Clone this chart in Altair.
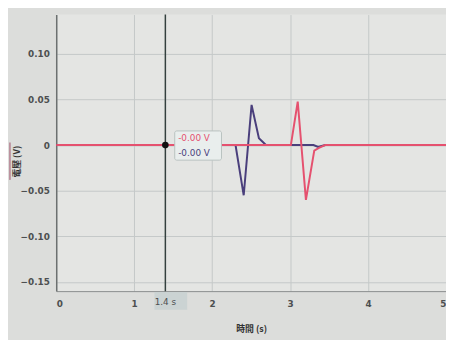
import altair as alt
import pandas as pd

# Series data (time in s, voltage in V)
purple_t = [0.0, 2.30, 2.405, 2.506, 2.60, 2.69, 3.30, 3.36, 3.45, 5.0]
purple_v = [0.0, 0.0, -0.055, 0.044, 0.0075, 0.0, 0.0, -0.002, 0.0, 0.0]
pink_t = [0.0, 3.01, 3.098, 3.203, 3.31, 3.37, 3.45, 5.0]
pink_v = [0.0, 0.0, 0.0476, -0.060, -0.006, -0.003, 0.0, 0.0]

x_ticks = [0, 1, 2, 3, 4, 5]
y_ticks = [0.10, 0.05, 0.0, -0.05, -0.10, -0.15]
cursor_t = 1.4
cursor_labels = ["-0.00 V", "-0.00 V"]
cursor_time_label = "1.4 s"

PINK = "#e5516f"
PURPLE = "#4a3f7c"

purple_df = pd.DataFrame({"t": purple_t, "v": purple_v})
pink_df = pd.DataFrame({"t": pink_t, "v": pink_v})

xs = alt.Scale(domain=[0, 5], nice=False, zero=False)
ys = alt.Scale(domain=[-0.16, 0.143], nice=False, zero=False)

x_axis = alt.Axis(values=x_ticks, title="時間 (s)", format="d", grid=True,
                  gridColor="#c4c8c8", domain=True, domainColor="#8a8e8e",
                  ticks=False, labelPadding=9, labelColor="#4d4f50",
                  labelFontSize=9, labelFontWeight="bold", titleFontSize=9,
                  titleFontWeight="bold", titleColor="#333", titlePadding=16,
                  labelFont="DejaVu Sans", titleFont="Noto Sans CJK TC")
y_axis = alt.Axis(values=y_ticks, title="電壓 (V)", grid=True,
                  gridColor="#c4c8c8", domain=True, domainColor="#6c7070",
                  domainWidth=1.5, ticks=False, labelPadding=7,
                  labelColor="#4d4f50", labelFontSize=9, labelFontWeight="bold",
                  labelExpr="datum.value == 0 ? '0' : format(datum.value, '.2f')",
                  titleFontSize=9, titleFontWeight="bold", titleColor="#333",
                  titleX=-40, titleY=149, titleBaseline="middle",
                  titleAlign="center", labelFont="DejaVu Sans",
                  titleFont="Noto Sans CJK TC")

purple_line = alt.Chart(purple_df).mark_line(strokeWidth=2, color=PURPLE).encode(
    x=alt.X("t:Q", scale=xs, axis=x_axis), y=alt.Y("v:Q", scale=ys, axis=y_axis))
pink_line = alt.Chart(pink_df).mark_line(strokeWidth=2, color=PINK).encode(
    x=alt.X("t:Q", scale=xs), y=alt.Y("v:Q", scale=ys))

cur = pd.DataFrame({"t": [cursor_t]})
rule = alt.Chart(cur).mark_rule(color="#34403f", strokeWidth=1.5).encode(
    x=alt.X("t:Q", scale=xs), y=alt.value(0), y2=alt.value(281))
dot = alt.Chart(cur).mark_point(filled=True, color="#111", size=45, opacity=1).encode(
    x=alt.X("t:Q", scale=xs), y=alt.datum(0, scale=ys))

# underline mark beside the y-axis title (series colour key)
key = alt.Chart(cur).mark_rule(color="#a0506a", strokeWidth=1).encode(
    x=alt.value(-47), y=alt.value(130), y2=alt.value(168))

box = alt.Chart(cur).mark_rect(fill="#e9eeed", stroke="#b9c2c0", strokeWidth=1,
                               cornerRadius=2).encode(
    x=alt.datum(1.52, scale=xs), x2=alt.datum(2.12),
    y=alt.datum(0.0155, scale=ys), y2=alt.datum(-0.0165))
lab_df = pd.DataFrame({"t": [cursor_t, cursor_t], "v": [0.0, 0.0],
                       "txt": cursor_labels})
lab1 = alt.Chart(lab_df.iloc[[0]]).mark_text(align="left", dx=13, dy=-7, fontSize=9,
                                              font="DejaVu Sans", color=PINK).encode(
    x=alt.X("t:Q", scale=xs), y=alt.Y("v:Q", scale=ys), text="txt:N")
lab2 = alt.Chart(lab_df.iloc[[1]]).mark_text(align="left", dx=13, dy=8, fontSize=9,
                                              font="DejaVu Sans", color=PURPLE).encode(
    x=alt.X("t:Q", scale=xs), y=alt.Y("v:Q", scale=ys), text="txt:N")

tbox = alt.Chart(cur).mark_rect(fill="#c9d2d2", opacity=0.9).encode(
    x=alt.datum(1.26, scale=xs), x2=alt.datum(1.68), y=alt.value(282), y2=alt.value(300))
tlab = alt.Chart(pd.DataFrame({"t": [cursor_t], "txt": [cursor_time_label]})).mark_text(
    fontSize=9, font="DejaVu Sans", color="#4d4f50", baseline="middle").encode(
    x=alt.X("t:Q", scale=xs), y=alt.value(292), text="txt:N")

chart = alt.layer(purple_line, pink_line, rule, dot, key, box, lab1, lab2, tbox, tlab).properties(
    width=396, height=281,
    padding={"left": 49, "top": 4, "right": 0, "bottom": 47},
    autosize="none",
    background="#dcdddb",
).configure_view(fill="#e4e5e3", stroke=None)

chart.save("out.html", embed_options={"renderer": "svg", "actions": False})
